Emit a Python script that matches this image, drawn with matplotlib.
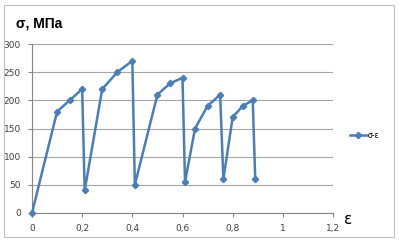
import matplotlib.pyplot as plt
from matplotlib.patches import Rectangle

# strain / stress values
eps = [0, 0.10, 0.15, 0.20, 0.21, 0.28, 0.34, 0.40, 0.41, 0.50, 0.55, 0.60, 0.61,
       0.65, 0.70, 0.75, 0.763, 0.80, 0.84, 0.88, 0.89]
sigma = [0, 180, 200, 220, 40, 220, 250, 270, 50, 210, 230, 240, 55,
         150, 190, 210, 60, 170, 190, 200, 60]
x_ticks = [0, 0.2, 0.4, 0.6, 0.8, 1.0, 1.2]
x_labels = ['0', '0,2', '0,4', '0,6', '0,8', '1', '1,2']
y_ticks = [0, 50, 100, 150, 200, 250, 300]

W, H = 399, 242
fig = plt.figure(figsize=(W / 100, H / 100), dpi=100)
fig.patches.append(Rectangle((4 / W, 5 / H), 390 / W, 232 / H, transform=fig.transFigure,
                             fill=False, edgecolor='#bfbfbf', linewidth=0.8))

ax = fig.add_axes([32 / W, 29 / H, 301 / W, 169 / H])
line_col = '#4a7ebb'
ax.plot(eps, sigma, '-', color=line_col, lw=1.8, marker='D', ms=3.2,
        mec=line_col, mfc=line_col, label='σ-ε', clip_on=False, zorder=3)

ax.set_xlim(0, 1.2)
ax.set_ylim(0, 300)
ax.set_xticks(x_ticks)
ax.set_xticklabels(x_labels)
ax.set_yticks(y_ticks)
ax.grid(axis='y', color='#a6a6a6', lw=0.8)
ax.set_axisbelow(True)
for s in ['top', 'right']:
    ax.spines[s].set_visible(False)
for s in ['left', 'bottom']:
    ax.spines[s].set_color('#868686')
    ax.spines[s].set_linewidth(0.8)
ax.tick_params(axis='both', direction='out', length=3, color='#868686', labelsize=6.5,
               labelcolor='#404040', pad=5)

fig.text(16 / W, 1 - 24 / H, 'σ, МПа', fontsize=10, fontweight='bold', va='center',
         ha='left', family='Liberation Sans')
fig.text(344 / W, 1 - 220 / H, 'ε', fontsize=11, va='center', ha='left')

leg = ax.legend(loc='center left', bbox_to_anchor=(346 / W, 1 - 135 / H),
                bbox_transform=fig.transFigure, frameon=False, fontsize=5.5,
                handlelength=2.2, handletextpad=0.1, borderpad=0)

fig.savefig('out.png', dpi=100)
